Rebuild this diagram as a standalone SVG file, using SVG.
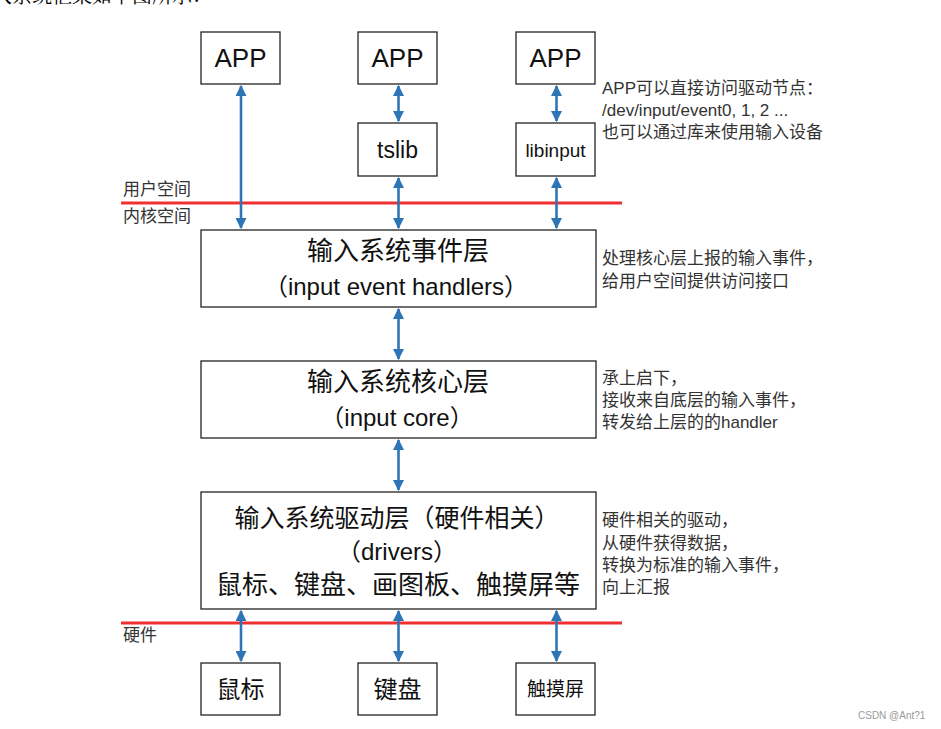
<svg xmlns="http://www.w3.org/2000/svg" width="941" height="729" viewBox="0 0 941 729">
<defs>
<marker id="ah" viewBox="0 0 10 10" refX="9" refY="5" markerWidth="11" markerHeight="11" markerUnits="userSpaceOnUse" orient="auto-start-reverse">
<path d="M0,0 L10,5 L0,10 Z" fill="#2E75B6"/>
</marker>
</defs>
<style>
.box{fill:#fff;stroke:#222;stroke-width:1.3}
.t{font-family:"Liberation Sans","Noto Sans CJK SC",sans-serif;fill:#111;text-anchor:middle;dominant-baseline:central}
.n{font-family:"Liberation Sans","Noto Sans CJK SC",sans-serif;fill:#333;font-size:17px}
.c{stroke:#2E75B6;stroke-width:2.6;fill:none;marker-start:url(#ah);marker-end:url(#ah)}
.red{stroke:#F03030;stroke-width:3}
</style>
<rect width="941" height="729" fill="#fff"/>
<text x="-28" y="3" font-family="'Noto Serif CJK SC','Noto Sans CJK SC',serif" font-size="20" fill="#000">输入系统框架如下图所示：</text>

<g id="lines">
<line class="red" x1="121" y1="203" x2="622" y2="203"/>
<line class="red" x1="121" y1="623" x2="622" y2="623"/>
<text class="n" x="123" y="195">用户空间</text>
<text class="n" x="123" y="222">内核空间</text>
<text class="n" x="123" y="641">硬件</text>
</g>

<g id="app1"><rect class="box" x="201" y="32" width="79" height="52"/><text class="t" x="240.5" y="58" font-size="26">APP</text></g>
<g id="app2"><rect class="box" x="358" y="32" width="79" height="52"/><text class="t" x="397.5" y="58" font-size="26">APP</text></g>
<g id="app3"><rect class="box" x="516" y="32" width="79" height="52"/><text class="t" x="555.5" y="58" font-size="26">APP</text></g>
<g id="tslib"><rect class="box" x="358" y="123" width="79" height="53"/><text class="t" x="397.5" y="150" font-size="23">tslib</text></g>
<g id="libinput"><rect class="box" x="516" y="123" width="79" height="53"/><text class="t" x="555.5" y="150" font-size="19">libinput</text></g>

<g id="event"><rect class="box" x="201" y="230" width="395" height="77"/>
<text class="t" x="398" y="251" font-size="26">输入系统事件层</text>
<text class="t" x="396" y="286" font-size="24">（input event handlers）</text></g>

<g id="core"><rect class="box" x="201" y="361" width="395" height="77"/>
<text class="t" x="398" y="382" font-size="26">输入系统核心层</text>
<text class="t" x="397" y="417" font-size="24">（input core）</text></g>

<g id="drivers"><rect class="box" x="201" y="492" width="395" height="117"/>
<text class="t" x="397" y="518" font-size="25">输入系统驱动层（硬件相关）</text>
<text class="t" x="397" y="551" font-size="24">（drivers）</text>
<text class="t" x="398" y="585" font-size="26">鼠标、键盘、画图板、触摸屏等</text></g>

<g id="mouse"><rect class="box" x="201" y="663" width="79" height="52"/><text class="t" x="240.5" y="689" font-size="24">鼠标</text></g>
<g id="keyboard"><rect class="box" x="358" y="663" width="79" height="52"/><text class="t" x="397.5" y="689" font-size="24">键盘</text></g>
<g id="touch"><rect class="box" x="516" y="663" width="79" height="52"/><text class="t" x="555.5" y="689" font-size="19">触摸屏</text></g>

<g id="connectors">
<line class="c" x1="241" y1="86" x2="241" y2="228"/>
<line class="c" x1="398.5" y1="86" x2="398.5" y2="121"/>
<line class="c" x1="556.5" y1="86" x2="556.5" y2="121"/>
<line class="c" x1="398.5" y1="178" x2="398.5" y2="228"/>
<line class="c" x1="556.5" y1="178" x2="556.5" y2="228"/>
<line class="c" x1="398.5" y1="309" x2="398.5" y2="359"/>
<line class="c" x1="398.5" y1="440" x2="398.5" y2="490"/>
<line class="c" x1="241" y1="611" x2="241" y2="661"/>
<line class="c" x1="398.5" y1="611" x2="398.5" y2="661"/>
<line class="c" x1="556.5" y1="611" x2="556.5" y2="661"/>
</g>

<g id="notes">
<text class="n" x="602" y="94" font-size="17.5">APP可以直接访问驱动节点：</text>
<text class="n" x="602" y="116" font-size="17.5">/dev/input/event0, 1, 2 ...</text>
<text class="n" x="602" y="138" font-size="17.5">也可以通过库来使用输入设备</text>
<text class="n" x="602" y="264">处理核心层上报的输入事件，</text>
<text class="n" x="602" y="287">给用户空间提供访问接口</text>
<text class="n" x="602" y="384">承上启下，</text>
<text class="n" x="602" y="406">接收来自底层的输入事件，</text>
<text class="n" x="602" y="428">转发给上层的的handler</text>
<text class="n" x="602" y="526">硬件相关的驱动，</text>
<text class="n" x="602" y="549">从硬件获得数据，</text>
<text class="n" x="602" y="571">转换为标准的输入事件，</text>
<text class="n" x="602" y="593">向上汇报</text>
</g>
<text x="858" y="719" font-family="'Liberation Sans',sans-serif" font-size="10" fill="#999">CSDN @Ant?1</text>
</svg>
